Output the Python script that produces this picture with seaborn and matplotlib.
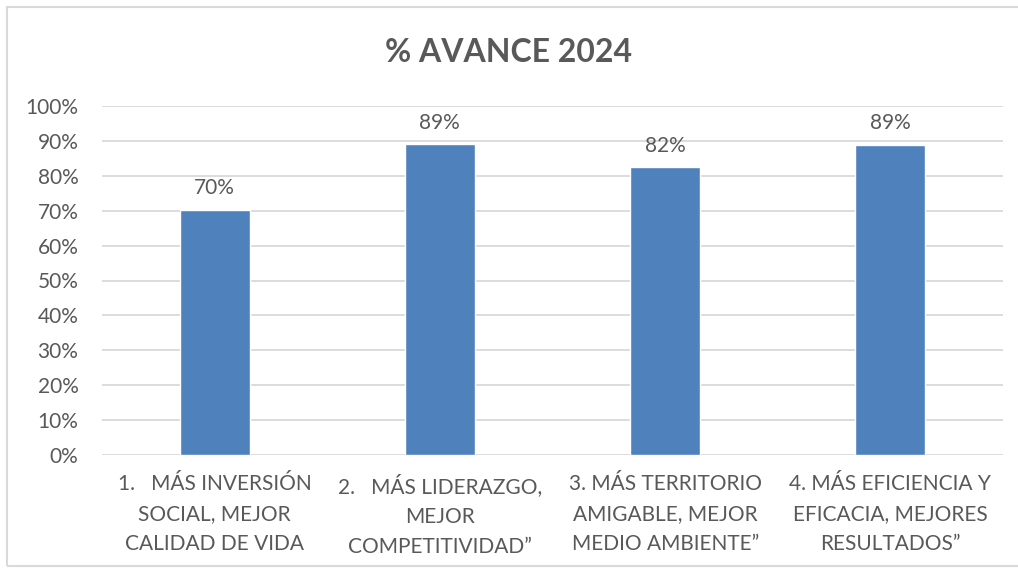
import matplotlib
matplotlib.use('Agg')
import matplotlib.pyplot as plt
from matplotlib.patches import Rectangle
from matplotlib.ticker import PercentFormatter
import seaborn as sns
import pandas as pd

categorias = ['1.   MÁS INVERSIÓN\nSOCIAL, MEJOR\nCALIDAD DE VIDA',
              '2.   MÁS LIDERAZGO,\nMEJOR\nCOMPETITIVIDAD”',
              '3. MÁS TERRITORIO\nAMIGABLE, MEJOR\nMEDIO AMBIENTE”',
              '4. MÁS EFICIENCIA Y\nEFICACIA, MEJORES\nRESULTADOS”']
avance = [0.702, 0.891, 0.824, 0.889]
etiquetas = ['70%', '89%', '82%', '89%']

df = pd.DataFrame({'cat': categorias, 'avance': avance})

sns.set_style('white')
plt.rcParams['font.family'] = ['Lato', 'DejaVu Sans']
gris = '#595959'

fig = plt.figure(figsize=(10.18, 5.73), dpi=100)
ax = fig.add_axes([102/1018, 1-455/573, 901/1018, 349/573])

sns.barplot(data=df, x='cat', y='avance', color='#4F81BD', saturation=1,
            width=0.31, ax=ax, zorder=3)

for i, (v, t) in enumerate(zip(avance, etiquetas)):
    ax.text(i, v + 0.033, t, ha='center', va='bottom', fontsize=15, color=gris)

ax.set_ylim(0, 1.0)
ax.set_yticks([i/10 for i in range(11)])
ax.yaxis.set_major_formatter(PercentFormatter(1.0, decimals=0))
ax.grid(axis='y', color='#D9D9D9', linewidth=1.3, zorder=0)
ax.set_axisbelow(True)
for s in ax.spines.values():
    s.set_visible(False)
ax.tick_params(axis='y', length=0, pad=17, labelsize=15, labelcolor=gris)
ax.tick_params(axis='x', length=0, pad=14, labelsize=15, labelcolor=gris)
for lab in ax.get_xticklabels():
    lab.set_linespacing(1.6)
ax.set_xlabel('')
ax.set_ylabel('')

fig.text(0.5, 1-52/573, '% AVANCE 2024', ha='center', va='center',
         fontsize=23, fontweight='bold', color=gris)

fig.add_artist(Rectangle((7/1018, 7/573), 1.0, 559/573, transform=fig.transFigure,
                         fill=False, edgecolor='#D9D9D9', linewidth=1.5))

fig.savefig('out.png', dpi=100)
